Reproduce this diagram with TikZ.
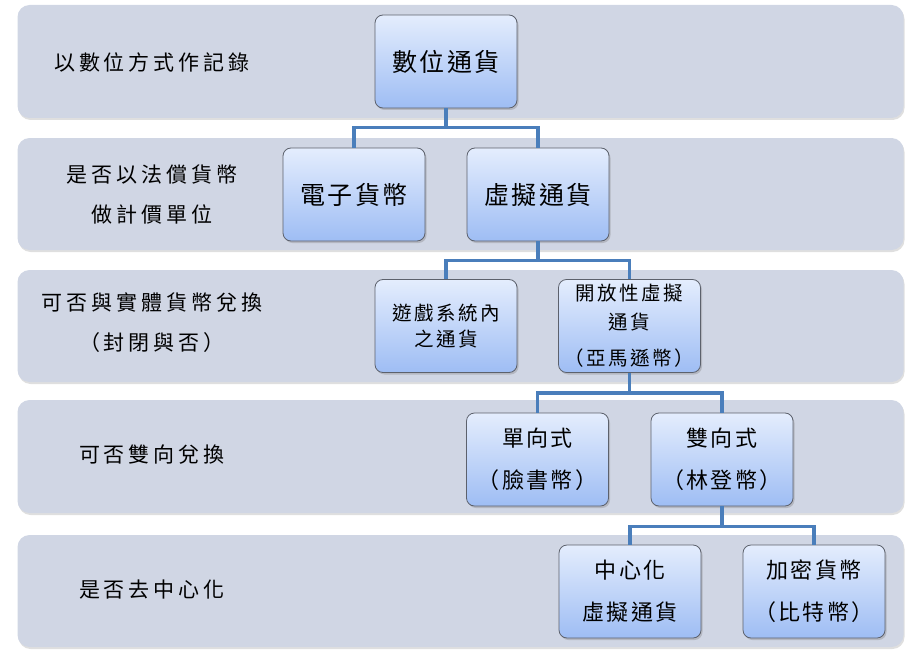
\documentclass[tikz,border=0pt]{standalone}
\usepackage{fontspec}
\newfontfamily\cjklabel[LetterSpace=19]{Noto Sans CJK TC}
\newfontfamily\cjkbig[LetterSpace=10]{Noto Sans CJK TC}
\newfontfamily\cjkmid[LetterSpace=11]{Noto Sans CJK TC}
\newfontfamily\cjksmall[LetterSpace=13]{Noto Sans CJK TC}
\usetikzlibrary{shadows}

\definecolor{bandgray}{RGB}{208,214,228}
\definecolor{boxtop}{RGB}{228,237,253}
\definecolor{boxbot}{RGB}{158,189,244}
\definecolor{boxline}{RGB}{92,97,108}
\definecolor{linkblue}{RGB}{74,126,187}

\begin{document}
\begin{tikzpicture}[
        x=1pt, y=-1pt,
        band/.style={rectangle, fill=bandgray, rounded corners=12pt, minimum width=886pt,
            drop shadow={shadow xshift=1pt, shadow yshift=-2pt, opacity=0.25}},
        question/.style={align=center, font=\cjklabel\fontsize{21}{40}\selectfont},
        kind/.style={rectangle, draw=boxline, line width=0.8pt, top color=boxtop, bottom color=boxbot,
            rounded corners=8pt, minimum width=142pt, minimum height=93pt, align=center, inner sep=2pt,
            drop shadow={shadow xshift=1.5pt, shadow yshift=-2pt, opacity=0.35}},
        kind_big/.style={kind, font=\cjkbig\fontsize{25}{28}\selectfont},
        kind_mid/.style={kind, font=\cjkmid\fontsize{22}{42}\selectfont},
        kind_small/.style={kind, font=\cjksmall\fontsize{19.5}{26}\selectfont},
        link/.style={draw=linkblue, line width=3.6pt}
    ]
    \useasboundingbox (0,0) rectangle (923,658);

    % background rows
    \node[band, minimum height=113pt] (rowA) at (460.5,61.5) {};
    \node[band, minimum height=112pt] (rowB) at (460.5,194) {};
    \node[band, minimum height=112pt] (rowC) at (460.5,326) {};
    \node[band, minimum height=113pt] (rowD) at (460.5,456.5) {};
    \node[band, minimum height=112pt] (rowE) at (460.5,591) {};

    % questions on the left
    \node[question] (askA) at (152,62) {以數位方式作記錄};
    \node[question] (askB) at (152,194) {是否以法償貨幣\\做計價單位};
    \node[question] (askC) at (152,323) {可否與實體貨幣兌換\\（封閉與否）};
    \node[question] (askD) at (152,455) {可否雙向兌換};
    \node[question] (askE) at (152,590) {是否去中心化};

    % currency types
    \node[kind_big] (digital) at (446,61.5) {數位通貨};
    \node[kind_big] (emoney) at (354,194.5) {電子貨幣};
    \node[kind_big] (virtual) at (538,194.5) {虛擬通貨};
    \node[kind_small] (ingame) at (446,326) {遊戲系統內\\之通貨};
    \node[kind_small, font=\cjksmall\fontsize{19.5}{29}\selectfont] (open) at (629.5,326) {開放性虛擬\\通貨\\[7pt]（亞馬遜幣）};
    \node[kind_mid] (oneway) at (537.5,459.5) {單向式\\（臉書幣）};
    \node[kind_mid] (twoway) at (722,459.5) {雙向式\\（林登幣）};
    \node[kind_mid] (central) at (630,591.5) {中心化\\虛擬通貨};
    \node[kind_mid] (crypto) at (814,591.5) {加密貨幣\\（比特幣）};

    % tree links
    \draw[link] (digital.south) -- ++(0,19) -| (emoney.north);
    \draw[link] (digital.south) -- ++(0,19) -| (virtual.north);
    \draw[link] (virtual.south) -- ++(0,19) -| (ingame.north);
    \draw[link] (virtual.south) -- ++(0,19) -| (open.north);
    \draw[link] (open.south) -- ++(0,20) -| (oneway.north);
    \draw[link] (open.south) -- ++(0,20) -| (twoway.north);
    \draw[link] (twoway.south) -- ++(0,20) -| (central.north);
    \draw[link] (twoway.south) -- ++(0,20) -| (crypto.north);
\end{tikzpicture}
\end{document}
